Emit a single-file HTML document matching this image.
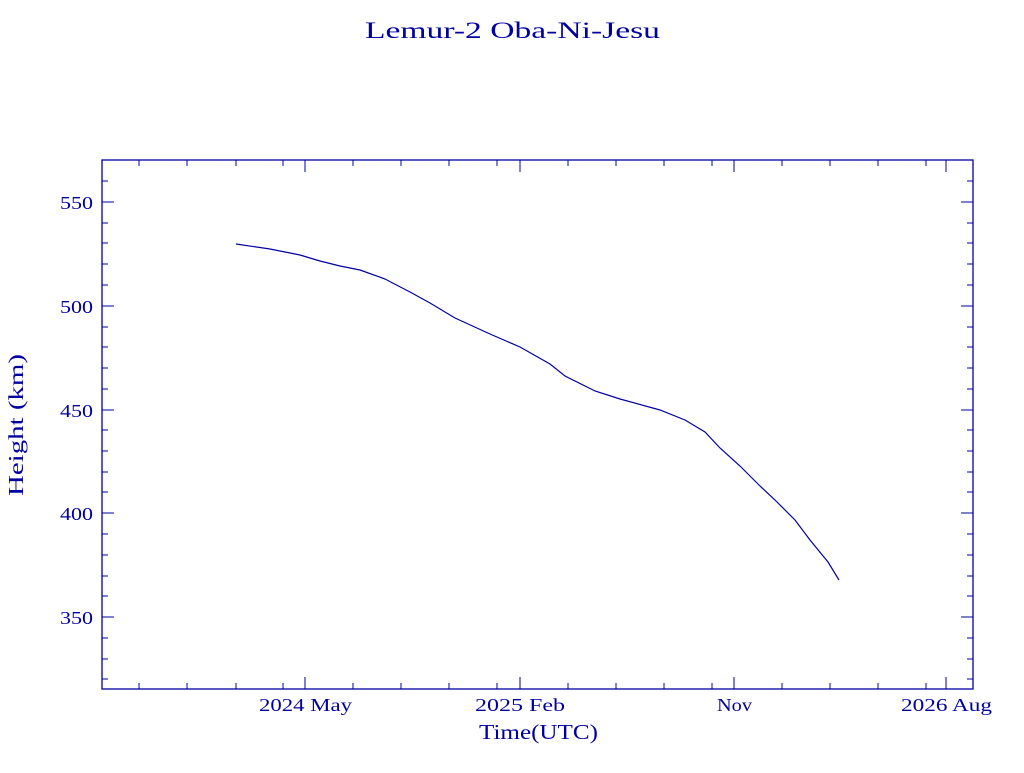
<!DOCTYPE html>
<html><head><style>
body{margin:0;background:#fff;}
svg text{font-family:"Liberation Serif",serif;fill:#0000a0;}
</style></head><body>
<svg width="1024" height="768" xmlns="http://www.w3.org/2000/svg">
<text x="365" y="38" font-size="23" textLength="295" lengthAdjust="spacingAndGlyphs">Lemur-2 Oba-Ni-Jesu</text>
<rect x="102" y="160" width="871" height="529" fill="none" stroke="#0000a0" stroke-width="1.3"/>
<g stroke="#0000a0" stroke-width="1">
<path d="M102,202h12M102,306h12M102,410h12M102,513h12M102,617h12M973,202h-12M973,306h-12M973,410h-12M973,513h-12M973,617h-12"/>
<path d="M102,181h6M102,223h6M102,243h6M102,264h6M102,285h6M102,327h6M102,347h6M102,368h6M102,389h6M102,430h6M102,451h6M102,472h6M102,492h6M102,534h6M102,555h6M102,576h6M102,596h6M102,638h6M102,659h6M102,679h6"/>
<path d="M973,181h-6M973,223h-6M973,243h-6M973,264h-6M973,285h-6M973,327h-6M973,347h-6M973,368h-6M973,389h-6M973,430h-6M973,451h-6M973,472h-6M973,492h-6M973,534h-6M973,555h-6M973,576h-6M973,596h-6M973,638h-6M973,659h-6M973,679h-6"/>
<path d="M305,689v-12M520,689v-12M734,689v-12M946,689v-12M305,160v12M520,160v12M734,160v12M946,160v12"/>
<path d="M139,689v-6M187,689v-6M236,689v-6M283,689v-6M353,689v-6M401,689v-6M449,689v-6M497,689v-6M568,689v-6M616,689v-6M664,689v-6M712,689v-6M782,689v-6M830,689v-6M878,689v-6M926,689v-6"/>
<path d="M139,160v6M187,160v6M236,160v6M283,160v6M353,160v6M401,160v6M449,160v6M497,160v6M568,160v6M616,160v6M664,160v6M712,160v6M782,160v6M830,160v6M878,160v6M926,160v6"/>
</g>
<g font-size="18">
<text x="60" y="209" textLength="33" lengthAdjust="spacingAndGlyphs">550</text>
<text x="60" y="313" textLength="33" lengthAdjust="spacingAndGlyphs">500</text>
<text x="60" y="417" textLength="33" lengthAdjust="spacingAndGlyphs">450</text>
<text x="60" y="520" textLength="33" lengthAdjust="spacingAndGlyphs">400</text>
<text x="60" y="624" textLength="33" lengthAdjust="spacingAndGlyphs">350</text>
<text x="259" y="711" textLength="93" lengthAdjust="spacingAndGlyphs">2024 May</text>
<text x="475" y="711" textLength="90" lengthAdjust="spacingAndGlyphs">2025 Feb</text>
<text x="717" y="711" textLength="35" lengthAdjust="spacingAndGlyphs">Nov</text>
<text x="901" y="711" textLength="91" lengthAdjust="spacingAndGlyphs">2026 Aug</text>
</g>
<text x="479" y="739" font-size="21" textLength="119" lengthAdjust="spacingAndGlyphs">Time(UTC)</text>
<text transform="translate(23,496) rotate(-90)" font-size="21" textLength="142" lengthAdjust="spacingAndGlyphs">Height (km)</text>
<polyline fill="none" stroke="#0000a0" stroke-width="1.2" points="236,244 270,249 300,255 320,261 340,266 360,270 385,279 410,292 430,303 455,318 490,334 520,347 550,364 565,376 595,391 620,399 660,410 685,420 705,432 720,448 740,466 760,486 775,500 795,520 810,540 828,562 839,580"/>
</svg>
</body></html>
